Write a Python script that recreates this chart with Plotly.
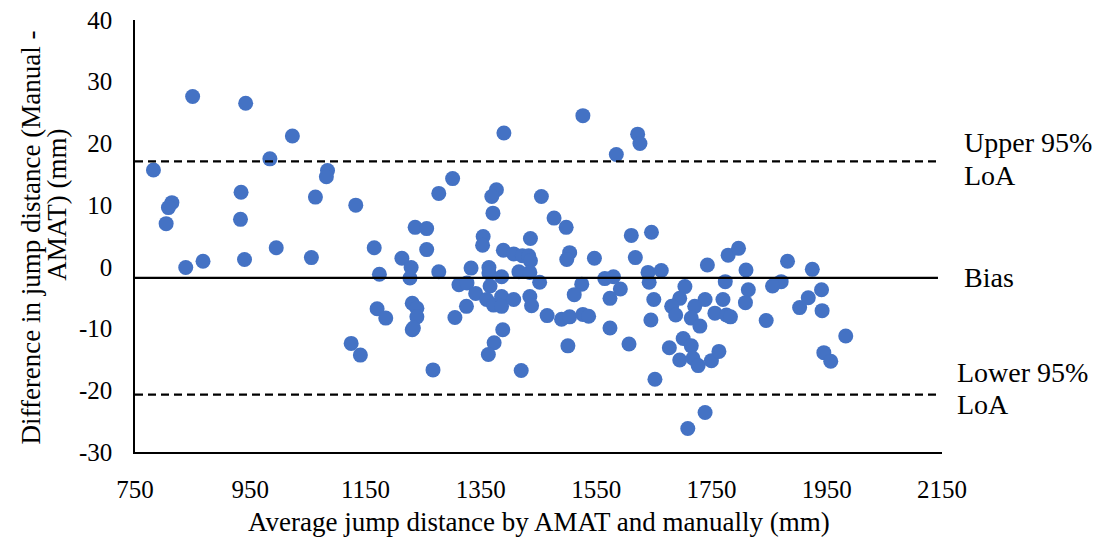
import plotly.graph_objects as go

# Average jump distance (mm) and difference Manual - AMAT (mm)
avg_mm = [782, 850, 942, 1023, 984, 1084, 1082, 814, 808, 804, 934, 933, 1063, 1133, 1236,
          995, 1165, 838, 868, 940, 1056, 1213, 1174, 1229, 1170, 1185, 1125, 1141, 1231, 1231,
          1527, 1390, 1301, 1277, 1377, 1369, 1371, 1455, 1477, 1498, 1256, 1256, 1354, 1353, 1436,
          1389, 1407, 1422, 1433, 1436, 1504, 1499, 1227, 1277, 1333, 1364, 1364, 1386, 1416, 1435,
          1452, 1525, 1312, 1326, 1366, 1341, 1360, 1372, 1386, 1386, 1407, 1435, 1438, 1512, 1465,
          1490, 1504, 1527, 1501, 1239, 1239, 1233, 1305, 1325, 1388, 1373, 1363, 1267, 1420,
          1622, 1626, 1585, 1611, 1646, 1547, 1618, 1743, 1779, 1565, 1580, 1592, 1640, 1642, 1663,
          1704, 1774, 1574, 1650, 1695, 1739, 1770, 1537, 1574, 1607, 1645, 1652, 1681, 1688, 1721,
          1715, 1730, 1756, 1776, 1677, 1701, 1715, 1695, 1718, 1727, 1750, 1763, 1739, 1709,
          1797, 1882, 1925, 1810, 1871, 1856, 1814, 1809, 1941, 1918, 1903, 1942, 1783, 1845, 1983,
          1945, 1957]
diff_mm = [15.7, 27.6, 26.5, 21.2, 17.5, 15.6, 14.6, 10.4, 9.6, 7.0, 12.1, 7.7, 11.3, 10.0, 6.4,
           3.1, 3.1, -0.1, 0.9, 1.2, 1.5, 1.4, -1.2, -0.1, -6.8, -8.3, -12.4, -14.3, -5.9, -10.2,
           24.5, 21.7, 14.3, 11.9, 12.5, 11.4, 8.7, 11.4, 7.9, 6.4, 6.2, 2.8, 4.9, 3.5, 4.6,
           2.7, 2.1, 1.8, 1.8, 1.0, 2.3, 1.2, -1.8, -0.8, -0.2, -0.1, -1.0, -1.6, -0.8, -0.9,
           -2.5, -2.8, -2.9, -2.6, -3.1, -4.3, -5.3, -6.2, -4.8, -6.4, -5.3, -4.8, -6.3, -4.5, -7.9,
           -8.5, -8.1, -7.7, -12.8, -6.7, -8.1, -9.9, -8.2, -6.4, -10.2, -12.3, -14.2, -16.7, -16.8,
           21.5, 20.0, 18.2, 5.1, 5.6, 1.4, 1.5, 0.3, 1.9, -1.9, -1.6, -3.6, -0.9, -2.5, -0.6,
           -3.2, -2.4, -5.1, -5.3, -5.1, -5.3, -5.3, -8.0, -9.9, -12.5, -8.6, -18.2, -6.4, -7.8, -6.4,
           -8.3, -9.6, -7.5, -7.8, -13.1, -11.6, -12.8, -15.1, -14.8, -16.0, -15.2, -13.7, -23.6, -26.2,
           3.0, 0.9, -0.4, -0.5, -2.4, -3.1, -3.7, -5.8, -3.7, -5.0, -6.6, -7.1, -8.1, -8.7, -11.2,
           -13.9, -15.3]

bias = -1.8
upper_loa = 17.1
lower_loa = -20.7
line_x = [750, 2143]

x_ticks = [750, 950, 1150, 1350, 1550, 1750, 1950, 2150]
y_ticks = [-30, -20, -10, 0, 10, 20, 30, 40]

FONT = "Liberation Serif, Times New Roman, serif"

fig = go.Figure()
fig.add_trace(go.Scatter(x=avg_mm, y=diff_mm, mode="markers",
                         marker=dict(size=15, color="#4472C4", line=dict(width=0)),
                         showlegend=False, hoverinfo="x+y"))
fig.add_trace(go.Scatter(x=line_x, y=[upper_loa, upper_loa], mode="lines",
                         line=dict(color="black", width=2.2, dash="8px,5px"), showlegend=False))
fig.add_trace(go.Scatter(x=line_x, y=[bias, bias], mode="lines",
                         line=dict(color="black", width=2.2), showlegend=False))
fig.add_trace(go.Scatter(x=line_x, y=[lower_loa, lower_loa], mode="lines",
                         line=dict(color="black", width=2.2, dash="8px,5px"), showlegend=False))

ann_font = dict(family=FONT, size=28, color="black")
title_font = dict(family=FONT, size=27, color="black")
annotations = [
    dict(text="Upper 95%", x=1.0248, y=0.7175, xanchor="left", yanchor="middle"),
    dict(text="LoA", x=1.0248, y=0.639, xanchor="left", yanchor="middle"),
    dict(text="Bias", x=1.0248, y=0.405, xanchor="left", yanchor="middle"),
    dict(text="Lower 95%", x=1.016, y=0.183, xanchor="left", yanchor="middle"),
    dict(text="LoA", x=1.016, y=0.109, xanchor="left", yanchor="middle"),
]
for a in annotations:
    a.update(xref="paper", yref="paper", showarrow=False, font=ann_font)
annotations += [
    dict(text="Average jump distance by AMAT and manually (mm)", x=0.5, y=-0.162,
         xref="paper", yref="paper", xanchor="center", yanchor="middle",
         showarrow=False, font=title_font),
    dict(text="Difference in jump distance (Manual -", x=-0.130, y=0.4965,
         xref="paper", yref="paper", xanchor="center", yanchor="middle",
         textangle=-90, showarrow=False, font=title_font),
    dict(text="AMAT) (mm)", x=-0.0967, y=0.572,
         xref="paper", yref="paper", xanchor="center", yanchor="middle",
         textangle=-90, showarrow=False, font=title_font),
]

fig.update_layout(
    width=1115, height=542,
    margin=dict(l=135, r=173, t=20, b=90, autoexpand=False),
    paper_bgcolor="white", plot_bgcolor="white",
    font=dict(family=FONT, size=25, color="black"),
    annotations=annotations,
    xaxis=dict(range=[750, 2150], tickvals=x_ticks, ticktext=[str(v) for v in x_ticks],
               showgrid=False, zeroline=False, showline=True, linecolor="black", linewidth=1.5,
               ticks="outside", ticklen=14, tickcolor="rgba(0,0,0,0)", automargin=False,
               tickfont=dict(family=FONT, size=25, color="black")),
    yaxis=dict(range=[-30, 40], tickvals=y_ticks, ticktext=[str(v) for v in y_ticks],
               showgrid=False, zeroline=False, showline=True, linecolor="black", linewidth=1.5,
               ticks="outside", ticklen=16, tickcolor="rgba(0,0,0,0)", automargin=False,
               tickfont=dict(family=FONT, size=25, color="black")),
)

fig.write_html("out.html")
